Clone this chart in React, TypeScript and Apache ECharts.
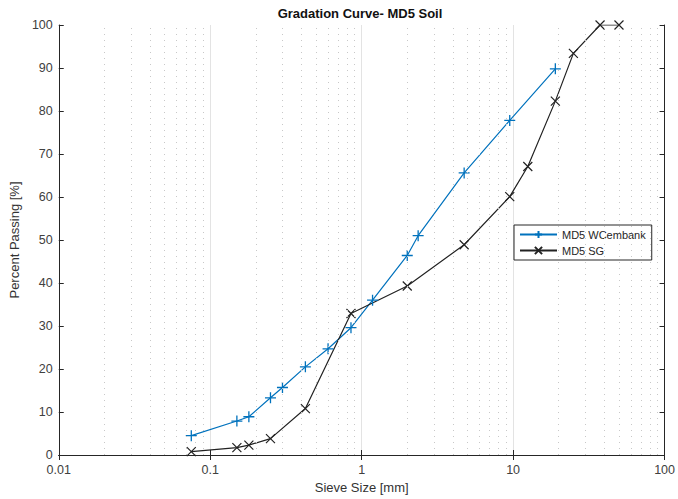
import React, { useEffect, useRef } from "react";
import * as echarts from "echarts";

const sieveWC = [0.075, 0.15, 0.18, 0.25, 0.3, 0.425, 0.6, 0.85, 1.18, 2.0, 2.36, 4.75, 9.5, 19];
const passWC = [4.5, 7.9, 8.9, 13.3, 15.7, 20.5, 24.7, 29.6, 36.0, 46.4, 51.0, 65.6, 77.8, 89.8];

const sieveSG = [0.075, 0.15, 0.18, 0.25, 0.425, 0.85, 2.0, 4.75, 9.5, 12.5, 19, 25, 37.5, 50];
const passSG = [0.8, 1.7, 2.3, 3.8, 10.8, 32.9, 39.3, 48.9, 60.1, 67.1, 82.3, 93.4, 100, 100];

const minorGridValues: number[] = [];
const decades = [0.01, 0.1, 1, 10];
decades.forEach((d) => {
  [2, 3, 4, 5, 6, 7, 8, 9].forEach((m) => minorGridValues.push(+(d * m).toPrecision(3)));
});

const title = "Gradation Curve- MD5 Soil";
const xName = "Sieve Size [mm]";
const yName = "Percent Passing [%]";
const nameWC = "MD5 WCembank";
const nameSG = "MD5 SG";

const BLUE = "#0072BD";
const BLACK = "#222222";
const AXIS = "#262626";
const FONT = "Liberation Sans, Arial, sans-serif";

export default function App() {
  const ref = useRef<HTMLDivElement>(null);
  useEffect(() => {
    const chart = echarts.init(ref.current!, null, { renderer: "svg" });
    const plusPath = "path://M5,0L5,10M0,5L10,5";
    const crossPath = "path://M0,0L10,10M0,10L10,0";
    const xAxisBase = {
      type: "log" as const,
      logBase: 10,
      min: 0.01,
      max: 100,
    };
    chart.setOption({
      animation: false,
      backgroundColor: "#ffffff",
      textStyle: { fontFamily: FONT },
      title: {
        text: title,
        left: 355,
        textAlign: "center",
        top: 2,
        textStyle: { fontSize: 13, fontWeight: "bold", color: "#111", fontFamily: FONT },
      },
      grid: { left: 56.5, right: 10.5, top: 25, bottom: 39, containLabel: false },
      legend: {
        orient: "vertical",
        left: 514,
        top: 225,
        padding: [4, 6, 4, 5],
        itemGap: 5,
        itemWidth: 37,
        itemHeight: 9,
        backgroundColor: "#fff",
        borderColor: AXIS,
        borderWidth: 1,
        borderRadius: 0,
        textStyle: { fontSize: 11, color: AXIS, fontFamily: FONT },
        data: [nameWC, nameSG],
      },
      xAxis: [
        {
          ...xAxisBase,
          position: "bottom",
          name: xName,
          nameLocation: "middle",
          nameGap: 26,
          nameTextStyle: { fontSize: 13, color: "#333", fontFamily: FONT },
          axisLine: { lineStyle: { color: AXIS, width: 1 } },
          axisTick: { inside: true, length: 5, lineStyle: { color: AXIS } },
          axisLabel: {
            fontSize: 12.5,
            color: "#404040",
            margin: 8,
            formatter: (v: number) => String(+v.toPrecision(3)),
          },
          splitLine: { show: true, lineStyle: { color: "#e3e3e3", width: 1 } },
        },
        {
          ...xAxisBase,
          position: "top",
          axisLine: { lineStyle: { color: AXIS, width: 1 } },
          axisTick: { inside: true, length: 5, lineStyle: { color: AXIS } },
          axisLabel: { show: false },
          splitLine: { show: false },
        },
      ],
      yAxis: [
        {
          type: "value",
          min: 0,
          max: 100,
          interval: 10,
          position: "left",
          name: yName,
          nameLocation: "middle",
          nameGap: 33,
          nameTextStyle: { fontSize: 13, color: "#333", fontFamily: FONT },
          axisLine: { show: true, lineStyle: { color: AXIS, width: 1 } },
          axisTick: { show: true, inside: true, length: 5, lineStyle: { color: AXIS } },
          axisLabel: { fontSize: 12.5, color: "#404040", margin: 6 },
          splitLine: { show: false },
        },
        {
          type: "value",
          min: 0,
          max: 100,
          interval: 10,
          position: "right",
          axisLine: { show: true, lineStyle: { color: AXIS, width: 1 } },
          axisTick: { show: true, inside: true, length: 5, lineStyle: { color: AXIS } },
          axisLabel: { show: false },
          splitLine: { show: false },
        },
      ],
      series: [
        {
          type: "line",
          name: "minor-grid",
          data: [],
          z: 1,
          silent: true,
          markLine: {
            silent: true,
            symbol: ["none", "none"],
            label: { show: false },
            animation: false,
            lineStyle: { color: "#c8c8c8", type: [1, 5], width: 1 },
            data: minorGridValues.map((v) => ({ xAxis: v })),
          },
        },
        {
          type: "line",
          name: nameWC,
          z: 3,
          data: sieveWC.map((s, i) => [s, passWC[i]]),
          symbol: plusPath,
          symbolSize: 11,
          showSymbol: true,
          lineStyle: { color: BLUE, width: 1.2 },
          itemStyle: { color: BLUE, borderColor: BLUE, borderWidth: 1.3 },
        },
        {
          type: "line",
          name: nameSG,
          z: 3,
          data: sieveSG.map((s, i) => [s, passSG[i]]),
          symbol: crossPath,
          symbolSize: 9,
          showSymbol: true,
          lineStyle: { color: BLACK, width: 1.2 },
          itemStyle: { color: BLACK, borderColor: BLACK, borderWidth: 1.2 },
        },
      ],
    });
    return () => chart.dispose();
  }, []);
  return <div ref={ref} style={{ width: 678, height: 499, position: "absolute", left: 0, top: 0 }} />;
}
